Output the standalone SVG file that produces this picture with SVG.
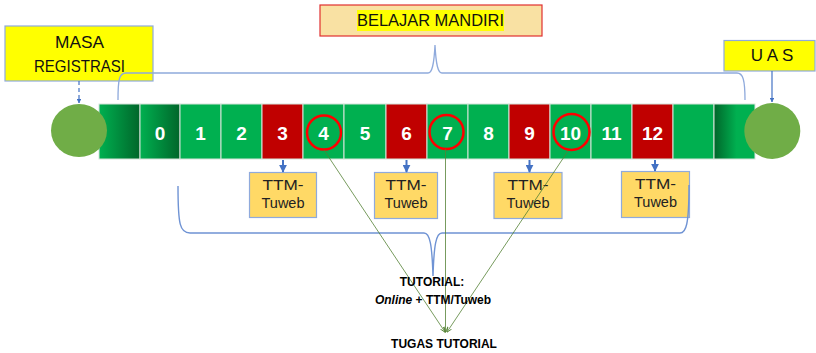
<svg xmlns="http://www.w3.org/2000/svg" width="816" height="353" viewBox="0 0 816 353">
<defs>
<linearGradient id="gL" x1="0" y1="0" x2="1" y2="0"><stop offset="0" stop-color="#00B050"/><stop offset="1" stop-color="#00662A"/></linearGradient>
<linearGradient id="gR" x1="0" y1="0" x2="1" y2="0"><stop offset="0" stop-color="#00662A"/><stop offset="0.55" stop-color="#00B050"/><stop offset="1" stop-color="#00B050"/></linearGradient>
<marker id="ab" viewBox="0 0 10 10" refX="9" refY="5" markerWidth="4" markerHeight="4" orient="auto"><path d="M0,0 L10,5 L0,10 z" fill="#4472C4"/></marker>
<marker id="ag" viewBox="0 0 10 10" refX="9" refY="5" markerWidth="7" markerHeight="7" orient="auto"><path d="M0,1 L10,5 L0,9" fill="none" stroke="#548235" stroke-width="1.5"/></marker>
</defs>
<style>
.cg{fill:#00B050;stroke:#D6E4DA;stroke-width:1}
.cr{fill:#C00000;stroke:#D6E4DA;stroke-width:1}
.num{font-family:"Liberation Sans",Arial,sans-serif;font-weight:bold;font-size:19px;fill:#FFFFFF;text-anchor:middle}
.rc{fill:none;stroke:#FF0000;stroke-width:2.5}
.lbl{font-family:"Liberation Sans",Arial,sans-serif;font-size:17px;fill:#111111;text-anchor:middle}
.ttm rect{fill:#FFD966;stroke:#8FAADC;stroke-width:1.2}
.ttm text{font-family:"Liberation Sans",Arial,sans-serif;font-size:14.5px;fill:#222222;text-anchor:middle}
.bt{font-family:"Liberation Sans",Arial,sans-serif;font-weight:bold;font-size:12px;fill:#000000;text-anchor:middle}
.ba{stroke:#4472C4;stroke-width:2;fill:none}
.gl{stroke:#548235;stroke-width:0.8;fill:none}
.br{fill:none;stroke:#8FAADC;stroke-width:1.3}
</style>
<g id="masa-registrasi">
<rect x="5" y="26" width="148" height="55" fill="#FFFF00" stroke="#8FAADC" stroke-width="1.2"/>
<text class="lbl" x="79.5" y="48.3" textLength="49" lengthAdjust="spacingAndGlyphs">MASA</text>
<text class="lbl" x="79.5" y="71.5" textLength="91" lengthAdjust="spacingAndGlyphs">REGISTRASI</text>
</g>
<g id="belajar-mandiri">
<rect x="320" y="5" width="222" height="31" fill="#F9E1A3" stroke="#E03030" stroke-width="1.2"/>
<rect x="357" y="10" width="147" height="21" fill="#FFFF00"/>
<text class="lbl" x="430.5" y="26" textLength="147" lengthAdjust="spacingAndGlyphs">BELAJAR MANDIRI</text>
</g>
<g id="uas">
<rect x="724" y="40.5" width="91" height="30.5" fill="#FFFF00" stroke="#8FAADC" stroke-width="1.2"/>
<text class="lbl" x="772" y="61">U A S</text>
</g>
<g id="timeline">
<rect x="99" y="104" width="41" height="55" fill="url(#gL)" stroke="#D6E4DA"/>
<rect x="140" y="104" width="40" height="55" fill="url(#gL)" stroke="#D6E4DA"/>
<rect class="cg" x="180" y="104" width="41" height="55"/>
<rect class="cg" x="221" y="104" width="41" height="55"/>
<rect class="cr" x="262" y="104" width="41" height="55"/>
<rect class="cg" x="303" y="104" width="41" height="55"/>
<rect class="cg" x="344" y="104" width="42" height="55"/>
<rect class="cr" x="386" y="104" width="41" height="55"/>
<rect class="cg" x="427" y="104" width="41" height="55"/>
<rect class="cg" x="468" y="104" width="41" height="55"/>
<rect class="cr" x="509" y="104" width="41" height="55"/>
<rect class="cg" x="550" y="104" width="41" height="55"/>
<rect class="cg" x="591" y="104" width="41" height="55"/>
<rect class="cr" x="632" y="104" width="41" height="55"/>
<rect class="cg" x="673" y="104" width="41" height="55"/>
<rect x="714" y="104" width="41" height="55" fill="url(#gR)" stroke="#D6E4DA"/>
<text class="num" x="160" y="139.5">0</text>
<text class="num" x="200.5" y="139.5">1</text>
<text class="num" x="241.5" y="139.5">2</text>
<text class="num" x="282.5" y="139.5">3</text>
<text class="num" x="323.5" y="139.5">4</text>
<text class="num" x="365" y="139.5">5</text>
<text class="num" x="406.5" y="139.5">6</text>
<text class="num" x="447.5" y="139.5">7</text>
<text class="num" x="488.5" y="139.5">8</text>
<text class="num" x="529.5" y="139.5">9</text>
<text class="num" x="570.5" y="139.5">10</text>
<text class="num" x="611.5" y="139.5">11</text>
<text class="num" x="652.5" y="139.5">12</text>
<circle class="rc" cx="324" cy="132.5" r="17"/>
<circle class="rc" cx="446.5" cy="132" r="17"/>
<circle class="rc" cx="571.5" cy="132" r="18"/>
</g>
<g id="start-circle"><ellipse cx="79" cy="130.5" rx="28" ry="26.5" fill="#70AD47"/></g>
<g id="end-circle"><circle cx="772.3" cy="131" r="28" fill="#70AD47"/></g>
<g id="ttm1" class="ttm"><rect x="249.5" y="172.5" width="67" height="45"/><text x="283" y="190" textLength="41" lengthAdjust="spacingAndGlyphs">TTM-</text><text x="283" y="208.3">Tuweb</text></g>
<g id="ttm2" class="ttm"><rect x="374.5" y="172.5" width="63" height="46"/><text x="406" y="190" textLength="41" lengthAdjust="spacingAndGlyphs">TTM-</text><text x="406" y="208.3">Tuweb</text></g>
<g id="ttm3" class="ttm"><rect x="494" y="172.5" width="68" height="46"/><text x="528" y="190" textLength="41" lengthAdjust="spacingAndGlyphs">TTM-</text><text x="528" y="208.3">Tuweb</text></g>
<g id="ttm4" class="ttm"><rect x="621.5" y="171.5" width="68" height="46"/><text x="655.5" y="189" textLength="41" lengthAdjust="spacingAndGlyphs">TTM-</text><text x="655.5" y="207.3">Tuweb</text></g>
<g id="connectors">
<path class="br" d="M118,100 C118,80 119,73 126,73 L428,73 C432,73 434,65 435,45 C436,65 438,73 442,73 L737,73 C743,73 745,80 745,100"/>
<path d="M178,186 C178,225 180,233 190,233 L424,233 C430,233 432,245 433,276 C434,245 436,233 442,233 L680,233 C686,233 689,225 689,185" fill="none" stroke="#6F93D4" stroke-width="1.4"/>
<line x1="79" y1="81" x2="79" y2="103" stroke="#4472C4" stroke-width="1.2" stroke-dasharray="4,3" marker-end="url(#ab)"/>
<line x1="772" y1="71" x2="772" y2="102" stroke="#4472C4" stroke-width="1.2" marker-end="url(#ab)"/>
<line class="ba" x1="283" y1="160" x2="283" y2="172" marker-end="url(#ab)"/>
<line class="ba" x1="406.5" y1="160" x2="406.5" y2="172" marker-end="url(#ab)"/>
<line class="ba" x1="529.5" y1="160" x2="529.5" y2="172" marker-end="url(#ab)"/>
<line class="ba" x1="655" y1="160" x2="655" y2="171" marker-end="url(#ab)"/>
<line class="gl" x1="324" y1="150" x2="445" y2="332" marker-end="url(#ag)"/>
<line class="gl" x1="445.5" y1="149" x2="445.5" y2="332" marker-end="url(#ag)"/>
<line class="gl" x1="568" y1="151" x2="447" y2="332" marker-end="url(#ag)"/>
</g>
<g id="tutorial-label">
<text class="bt" x="432" y="285.5">TUTORIAL:</text>
<text class="bt" x="433" y="303.5"><tspan font-style="italic">Online</tspan> + TTM/Tuweb</text>
</g>
<g id="tugas-tutorial"><text class="bt" x="444" y="347.5">TUGAS TUTORIAL</text></g>
</svg>
